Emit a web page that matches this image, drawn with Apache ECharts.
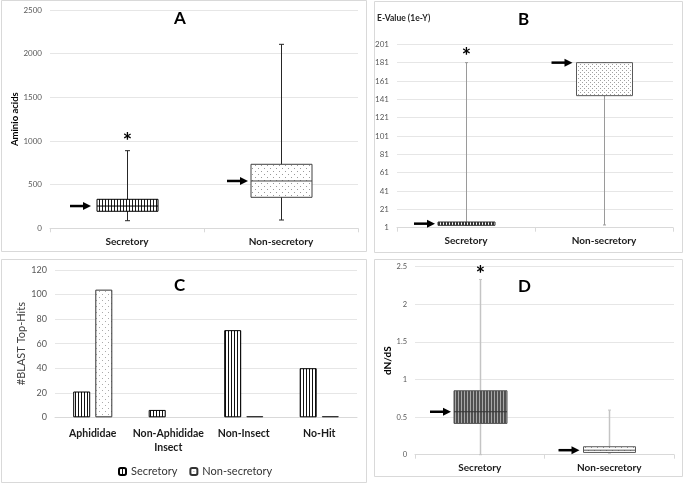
<!DOCTYPE html>
<html><head><meta charset="utf-8">
<script src="https://cdn.jsdelivr.net/npm/echarts@6/dist/echarts.min.js"></script>
<style>html,body{margin:0;padding:0;background:#fff}#c{width:685px;height:485px}</style>
</head><body><div id="c"></div>
<script>
// ---------- DATA ----------
const boxCategories = ['Secretory', 'Non-secretory'];
// each box: [min, Q1, median, Q3, max]
const lengthSecretory    = [87, 195, 255, 332, 889];
const lengthNonSecretory = [95, 355, 542, 733, 2107];
const evalueSecretory    = [3.6, 3.6, 5.4, 7.2, 181];
const evalueNonSecretory = [4, 145, 181, 181, 181];
const dndsSecretory      = [0, 0.416, 0.571, 0.85, 2.33];
const dndsNonSecretory   = [0.02, 0.03, 0.06, 0.106, 0.593];
const blastCategories    = ['Aphididae', 'Non-Aphididae\nInsect', 'Non-Insect', 'No-Hit'];
const blastSecretory     = [21, 6, 71, 40];
const blastNonSecretory  = [104, 0, 1, 1];
const significant        = [true, false]; // asterisk on Secretory
const panelTitles        = ['A', 'B', 'C', 'D'];
const lengthAxis = {min: 0, max: 2500, interval: 500};
const evalueAxis = {min: 1, max: 201, interval: 20};
const blastAxis  = {min: 0, max: 120, interval: 20};
const dndsAxis   = {min: 0, max: 2.5, interval: 0.5};

// ---------- STYLE HELPERS ----------
const FONT = 'Lato, "Open Sans", sans-serif';
function stripes(period, lineW, lineColor, bg) {
  const c = document.createElement('canvas'); c.width = period; c.height = period;
  const g = c.getContext('2d'); g.fillStyle = bg; g.fillRect(0, 0, period, period);
  g.fillStyle = lineColor; g.fillRect(0, 0, lineW, period);
  return {image: c, repeat: 'repeat'};
}
function dots(period, dotColor, bg) {
  const s = period * 2;
  const c = document.createElement('canvas'); c.width = s; c.height = s;
  const g = c.getContext('2d'); g.fillStyle = bg; g.fillRect(0, 0, s, s);
  g.fillStyle = dotColor; g.fillRect(0, 0, 1, 1); g.fillRect(period, period, 1, 1);
  return {image: c, repeat: 'repeat'};
}
const pStripeA = stripes(3, 1, '#1a1a1a', '#ffffff');
const pStripeB = stripes(3, 2, '#333333', '#ffffff');
const pStripeC = stripes(3, 1, '#111111', '#ffffff');
const pStripeD = stripes(3, 2, '#505050', '#a8a8a8');
const pDotA = dots(3, '#9a9a9a', '#ffffff');
const pDotB = dots(2, '#a0a0a0', '#ffffff');
const pDotC = dots(3, '#aaaaaa', '#ffffff');
const pDotD = dots(3, '#999999', '#ffffff');

function boxData(a, b) { return [[0].concat(a), [1].concat(b)]; }

function makeBoxSeries(idx, data, cfg) {
  return {
    type: 'custom', xAxisIndex: idx, yAxisIndex: idx, z: 5,
    encode: {x: 0, y: [1, 2, 3, 4, 5]},
    data: data,
    renderItem: function (params, api) {
      const i = params.dataIndex;
      const cat = api.value(0);
      const v = [1, 2, 3, 4, 5].map(k => api.value(k));
      const p = v.map(val => api.coord([cat, val]));
      const x = Math.round(p[0][0]) + 0.5;
      const yMin = p[0][1], yQ1 = p[1][1], yMed = p[2][1], yQ3 = p[3][1], yMax = p[4][1];
      const hw = cfg.boxW[i] / 2;
      const ch = [];
      ch.push({type: 'line', shape: {x1: x, y1: yMax, x2: x, y2: yMin},
        style: {stroke: cfg.whisker, lineWidth: cfg.whiskerW}});
      if (cfg.cap) {
        ch.push({type: 'line', shape: {x1: x - cfg.cap, y1: yMax, x2: x + cfg.cap, y2: yMax}, style: {stroke: cfg.whisker, lineWidth: 1}});
        ch.push({type: 'line', shape: {x1: x - cfg.cap, y1: yMin, x2: x + cfg.cap, y2: yMin}, style: {stroke: cfg.whisker, lineWidth: 1}});
      }
      ch.push({type: 'rect', shape: {x: x - hw, y: yQ3, width: 2 * hw, height: Math.max(yQ1 - yQ3, 2)},
        style: {fill: cfg.fill[i], stroke: cfg.border[i], lineWidth: 1}});
      if (cfg.median[i]) {
        ch.push({type: 'line', shape: {x1: x - hw, y1: yMed, x2: x + hw, y2: yMed},
          style: {stroke: cfg.median[i], lineWidth: 1}});
      }
      const tip = x - hw - cfg.gap[i];
      ch.push({type: 'line', shape: {x1: tip - 21, y1: yMed, x2: tip - 6, y2: yMed},
        style: {stroke: '#000', lineWidth: 2.5}});
      ch.push({type: 'polygon', shape: {points: [[tip, yMed], [tip - 8, yMed - 4], [tip - 8, yMed + 4]]},
        style: {fill: '#000'}});
      if (significant[i]) {
        ch.push({type: 'text', style: {text: '*', x: x, y: yMax - cfg.starDy, align: 'center', verticalAlign: 'middle',
          fontSize: 22, fontWeight: 'bold', fontFamily: FONT, fill: '#000'}});
      }
      return {type: 'group', children: ch};
    }
  };
}

function catAxis(idx, data, extra) {
  return Object.assign({
    type: 'category', gridIndex: idx, data: data,
    axisLine: {lineStyle: {color: '#d9d9d9'}},
    axisTick: {show: true, lineStyle: {color: '#d9d9d9'}, length: 4},
    axisLabel: {fontFamily: FONT, fontSize: 10, fontWeight: 'bold', color: '#1a1a1a', margin: 8, interval: 0}
  }, extra || {});
}
function valAxis(idx, ax, fs, extra) {
  return Object.assign({
    type: 'value', gridIndex: idx, min: ax.min, max: ax.max, interval: ax.interval,
    axisLine: {show: false}, axisTick: {show: false},
    splitLine: {lineStyle: {color: '#e6e6e6'}},
    axisLabel: {fontFamily: FONT, fontSize: fs, color: '#595959', margin: 8, formatter: v => String(v)}
  }, extra || {});
}

const border = {stroke: '#d9d9d9', fill: 'none', lineWidth: 1};
const option = {
  animation: false,
  backgroundColor: '#fff',
  textStyle: {fontFamily: FONT},
  title: [
    {text: panelTitles[0], left: 169, top: 5},
    {text: panelTitles[1], left: 513, top: 6},
    {text: panelTitles[2], left: 169, top: 272},
    {text: panelTitles[3], left: 513, top: 273}
  ].map(t => Object.assign(t, {textStyle: {fontFamily: FONT, fontSize: 17, fontWeight: 'bold', color: '#000'}})),
  graphic: [
    {type: 'rect', shape: {x: 1.5, y: 0.5, width: 365, height: 251}, style: border, silent: true},
    {type: 'rect', shape: {x: 374.5, y: 1.5, width: 308, height: 251}, style: border, silent: true},
    {type: 'rect', shape: {x: 1.5, y: 259.5, width: 365, height: 223}, style: border, silent: true},
    {type: 'rect', shape: {x: 374.5, y: 259.5, width: 308, height: 217}, style: border, silent: true}
  ],
  grid: [
    {left: 50, right: 327, top: 10, bottom: 256.7},
    {left: 397, right: 12, top: 44.3, bottom: 257.3},
    {left: 55, right: 328, top: 270, bottom: 67.7},
    {left: 415, right: 11, top: 266.7, bottom: 30.3}
  ],
  legend: {
    data: ['Secretory', 'Non-secretory'], left: 113, top: 461,
    itemWidth: 7, itemHeight: 7, itemGap: 12,
    textStyle: {fontFamily: FONT, fontSize: 11, color: '#333'}
  },
  xAxis: [
    catAxis(0, boxCategories),
    catAxis(1, boxCategories),
    catAxis(2, blastCategories, {axisTick: {show: false},
      axisLabel: {fontFamily: FONT, fontSize: 10.5, fontWeight: 'bold', color: '#1a1a1a', margin: 9, interval: 0, lineHeight: 14}}),
    catAxis(3, boxCategories)
  ],
  yAxis: [
    valAxis(0, lengthAxis, 8, {name: 'Aminio acids', nameLocation: 'middle', nameGap: 30,
      nameTextStyle: {fontFamily: FONT, fontSize: 9.5, fontWeight: 'bold', color: '#000'}}),
    valAxis(1, evalueAxis, 8, {name: 'E-Value (1e-Y)', nameLocation: 'end', nameGap: 22,
      nameTextStyle: {fontFamily: FONT, fontSize: 8.5, fontWeight: 'bold', color: '#262626', align: 'left', padding: [0, 0, 0, -20]}}),
    valAxis(2, blastAxis, 9, {name: '#BLAST Top-Hits', nameLocation: 'middle', nameGap: 26,
      nameTextStyle: {fontFamily: FONT, fontSize: 11, color: '#404040'}}),
    valAxis(3, dndsAxis, 7.5, {name: 'dN/dS', nameLocation: 'middle', nameGap: 22,
      nameTextStyle: {fontFamily: FONT, fontSize: 10, fontWeight: 'bold', color: '#000'}})
  ],
  series: [
    makeBoxSeries(0, boxData(lengthSecretory, lengthNonSecretory), {
      boxW: [61, 61], fill: [pStripeA, pDotA], border: ['#000', '#404040'], median: ['#000', '#404040'],
      whisker: '#262626', whiskerW: 1, cap: 2.5, gap: [6, 3], starDy: 9}),
    makeBoxSeries(1, boxData(evalueSecretory, evalueNonSecretory), {
      boxW: [57, 56], fill: [pStripeB, pDotB], border: ['#333', '#595959'], median: [null, null],
      whisker: '#9a9a9a', whiskerW: 1, cap: 1.5, gap: [3, 4], starDy: 6}),
    {
      name: 'Secretory', type: 'bar', xAxisIndex: 2, yAxisIndex: 2,
      data: blastSecretory.map(v => (v === 0 ? null : v)),
      barWidth: 17, barGap: '30%',
      itemStyle: {color: pStripeC, borderColor: '#000', borderWidth: 1}
    },
    {
      name: 'Non-secretory', type: 'bar', xAxisIndex: 2, yAxisIndex: 2,
      data: blastNonSecretory.map(v => (v === 0 ? null : v)),
      barWidth: 17, barGap: '30%',
      itemStyle: {color: pDotC, borderColor: '#333', borderWidth: 1}
    },
    makeBoxSeries(3, boxData(dndsSecretory, dndsNonSecretory), {
      boxW: [53, 52], fill: [pStripeD, pDotD], border: ['#555', '#595959'], median: ['#333', '#555'],
      whisker: '#c4c4c4', whiskerW: 1.5, cap: 1.5, gap: [3, 4], starDy: 5})
  ]
};
const chart = echarts.init(document.getElementById('c'), null, {renderer: 'canvas'});
chart.setOption(option);
</script>
</body></html>
